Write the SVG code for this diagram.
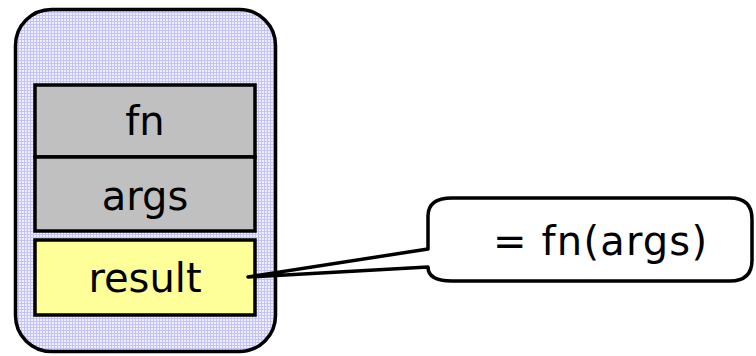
<svg xmlns="http://www.w3.org/2000/svg" width="756" height="356" viewBox="0 0 756 356">
  <defs>
    <pattern id="grid" width="3" height="3" patternUnits="userSpaceOnUse">
      <rect width="3" height="3" fill="#EEEEFF"/>
      <rect width="3" height="1" fill="#C4C4F4"/>
      <rect width="1" height="3" fill="#C4C4F4"/>
    </pattern>
  </defs>
  <style>
    .frame { fill: url(#grid); stroke: #000; stroke-width: 3.5; }
    .cell { stroke: #000; stroke-width: 3.5; }
    .gray { fill: #C0C0C0; }
    .yellow { fill: #FFFF99; }
    .lbl { font-family: "DejaVu Sans", sans-serif; font-size: 40px; fill: #000; text-anchor: middle; }
    .callout { fill: #FFFFFF; stroke: #000; stroke-width: 3.5; stroke-linejoin: round; }
  </style>
  <g id="frame">
    <rect class="frame" x="15.5" y="9.5" width="260" height="342" rx="36" ry="36"/>
  </g>
  <g id="fn">
    <rect class="cell gray" x="35" y="85" width="220" height="72"/>
    <text class="lbl" x="145" y="135">fn</text>
  </g>
  <g id="args">
    <rect class="cell gray" x="35" y="157" width="220" height="74"/>
    <text class="lbl" x="145" y="210">args</text>
  </g>
  <g id="result">
    <rect class="cell yellow" x="35" y="240" width="220" height="75"/>
    <text class="lbl" x="145" y="292">result</text>
  </g>
  <g id="connectors">
    <path id="callout-shape" class="callout" d="M 428,249 L 248,277 L 428,267 Q 428,281 452,281 L 730,281 Q 752,281 752,260 L 752,219 Q 752,198 730,198 L 452,198 Q 428,198 428,216 Z"/>
  </g>
  <g id="callout">
    <text class="lbl" x="600" y="255" textLength="214" lengthAdjust="spacing">= fn(args)</text>
  </g>
</svg>
